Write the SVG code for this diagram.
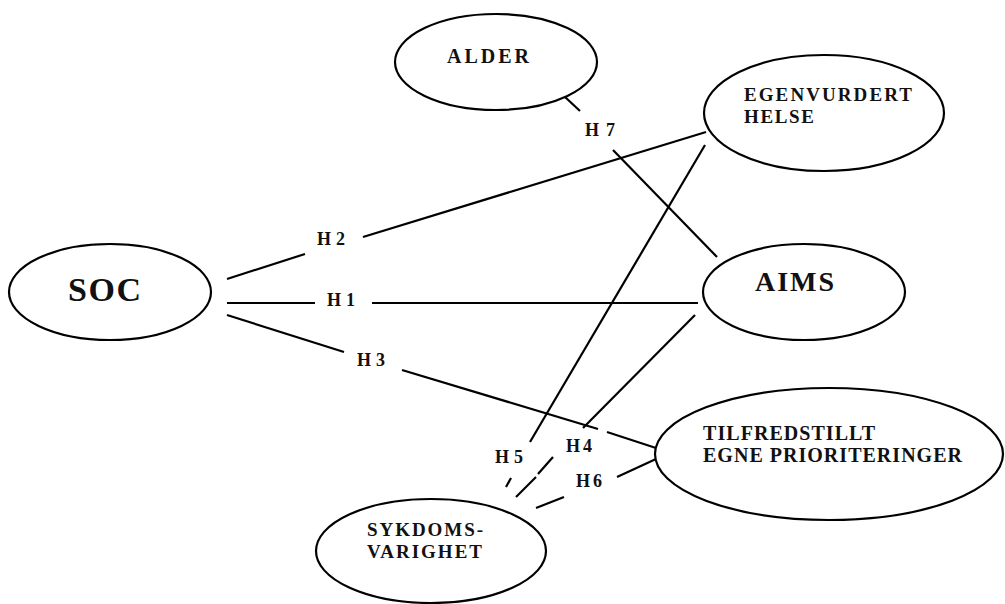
<svg xmlns="http://www.w3.org/2000/svg" width="1005" height="604" viewBox="0 0 1005 604">
  <style>
    .node ellipse { fill: #ffffff; stroke: #000000; stroke-width: 2.2; }
    .lbl { font-family: "Liberation Serif", "Times New Roman", serif; font-weight: bold; fill: #111111; }
    .edges line { stroke: #000000; stroke-width: 2.2; stroke-linecap: butt; }
    .hyp { font-family: "Liberation Serif", "Times New Roman", serif; font-weight: bold; font-size: 18px; fill: #111111; }
  </style>
  <rect width="1005" height="604" fill="#ffffff"/>

  <!-- connectors (hypothesis paths) -->
  <g id="connectors" class="edges">
    <!-- H7: ALDER - AIMS -->
    <line x1="565" y1="97" x2="580" y2="111"/>
    <line x1="613" y1="150" x2="717" y2="257"/>
    <!-- H2: SOC - EGENVURDERT HELSE -->
    <line x1="227" y1="279" x2="305" y2="254"/>
    <line x1="363" y1="237" x2="706" y2="132"/>
    <!-- H1: SOC - AIMS -->
    <line x1="227" y1="303" x2="315" y2="303"/>
    <line x1="372" y1="303" x2="698" y2="303"/>
    <!-- H3: SOC - TILFREDSTILLT -->
    <line x1="227" y1="315" x2="344" y2="352"/>
    <line x1="402" y1="370" x2="598" y2="429"/>
    <line x1="607" y1="432" x2="656" y2="448"/>
    <!-- H5: SYKDOMSVARIGHET - EGENVURDERT HELSE -->
    <line x1="705" y1="145" x2="530" y2="442"/>
    <line x1="511" y1="478" x2="506" y2="487"/>
    <!-- H4: SYKDOMSVARIGHET - AIMS -->
    <line x1="695" y1="315" x2="583" y2="428"/>
    <line x1="553" y1="457" x2="538" y2="474"/>
    <line x1="536" y1="477" x2="516" y2="497"/>
    <!-- H6: SYKDOMSVARIGHET - TILFREDSTILLT -->
    <line x1="656" y1="459" x2="617" y2="477"/>
    <line x1="564" y1="497" x2="536" y2="508"/>
  </g>

  <!-- path labels -->
  <g id="path-labels">
    <text class="hyp" x="317" y="245" textLength="28" lengthAdjust="spacing">H2</text>
    <text class="hyp" x="327" y="306" textLength="28" lengthAdjust="spacing">H1</text>
    <text class="hyp" x="357" y="366" textLength="28" lengthAdjust="spacing">H3</text>
    <text class="hyp" x="566" y="452" textLength="26" lengthAdjust="spacing">H4</text>
    <text class="hyp" x="495" y="463" textLength="28" lengthAdjust="spacing">H5</text>
    <text class="hyp" x="576" y="487" textLength="26" lengthAdjust="spacing">H6</text>
    <text class="hyp" x="585" y="136" textLength="30" lengthAdjust="spacing">H7</text>
  </g>

  <g id="node-alder" class="node">
    <ellipse cx="496" cy="62" rx="101" ry="48"/>
    <text class="lbl" x="447" y="63" font-size="20" textLength="82" lengthAdjust="spacing">ALDER</text>
  </g>

  <g id="node-egenvurdert-helse" class="node">
    <ellipse cx="824" cy="113" rx="120" ry="58"/>
    <text class="lbl" x="744" y="101" font-size="19" textLength="168" lengthAdjust="spacing">EGENVURDERT</text>
    <text class="lbl" x="744" y="123" font-size="19" textLength="70" lengthAdjust="spacing">HELSE</text>
  </g>

  <g id="node-soc" class="node">
    <ellipse cx="110" cy="292" rx="101" ry="48"/>
    <text class="lbl" x="68" y="301" font-size="34" textLength="73" lengthAdjust="spacing">SOC</text>
  </g>

  <g id="node-aims" class="node">
    <ellipse cx="804" cy="292" rx="101" ry="48"/>
    <text class="lbl" x="755" y="291" font-size="28" textLength="79" lengthAdjust="spacing">AIMS</text>
  </g>

  <g id="node-tilfredstillt" class="node">
    <ellipse cx="829" cy="454" rx="174" ry="66"/>
    <text class="lbl" x="703" y="440" font-size="20" textLength="172" lengthAdjust="spacing">TILFREDSTILLT</text>
    <text class="lbl" x="703" y="462" font-size="20" textLength="259" lengthAdjust="spacing">EGNE PRIORITERINGER</text>
  </g>

  <g id="node-sykdomsvarighet" class="node">
    <ellipse cx="431" cy="551" rx="115" ry="52"/>
    <text class="lbl" x="367" y="536" font-size="19" textLength="116" lengthAdjust="spacing">SYKDOMS-</text>
    <text class="lbl" x="367" y="558" font-size="19" textLength="115" lengthAdjust="spacing">VARIGHET</text>
  </g>
</svg>
